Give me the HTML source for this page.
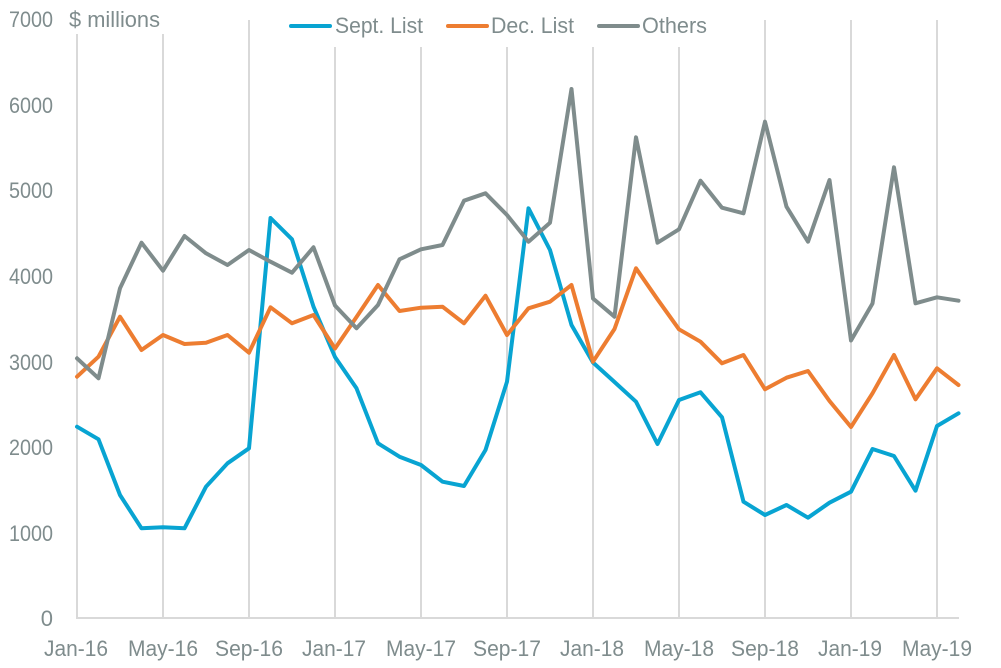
<!DOCTYPE html>
<html>
<head>
<meta charset="utf-8">
<style>
html,body{margin:0;padding:0;background:#fff;}
svg{display:block;}
text{font-family:"Liberation Sans",sans-serif;fill:#7f8c8d;font-size:22px;}
</style>
</head>
<body>
<svg width="1001" height="668" viewBox="0 0 1001 668" xmlns="http://www.w3.org/2000/svg">
<rect width="1001" height="668" fill="#fff"/>
<!-- gridlines -->
<g stroke="#d9d9d9" stroke-width="2">
<line x1="77" y1="34" x2="77" y2="618"/>
<line x1="163" y1="34" x2="163" y2="618"/>
<line x1="249" y1="20" x2="249" y2="618"/>
<line x1="335" y1="47" x2="335" y2="618"/>
<line x1="421" y1="47" x2="421" y2="618"/>
<line x1="507" y1="47" x2="507" y2="618"/>
<line x1="593" y1="47" x2="593" y2="618"/>
<line x1="679" y1="47" x2="679" y2="618"/>
<line x1="765" y1="20" x2="765" y2="618"/>
<line x1="851" y1="20" x2="851" y2="618"/>
<line x1="937" y1="20" x2="937" y2="618"/>
<line x1="76" y1="618" x2="959" y2="618"/>
</g>
<!-- y labels -->
<g text-anchor="end">
<text x="53" y="27" textLength="44" lengthAdjust="spacingAndGlyphs">7000</text>
<text x="53" y="113" textLength="44" lengthAdjust="spacingAndGlyphs">6000</text>
<text x="53" y="198" textLength="44" lengthAdjust="spacingAndGlyphs">5000</text>
<text x="53" y="284" textLength="44" lengthAdjust="spacingAndGlyphs">4000</text>
<text x="53" y="370" textLength="44" lengthAdjust="spacingAndGlyphs">3000</text>
<text x="53" y="455" textLength="44" lengthAdjust="spacingAndGlyphs">2000</text>
<text x="53" y="541" textLength="44" lengthAdjust="spacingAndGlyphs">1000</text>
<text x="53" y="626">0</text>
</g>
<text x="69" y="27" textLength="91" lengthAdjust="spacingAndGlyphs">$ millions</text>
<!-- x labels -->
<g text-anchor="middle">
<text x="76" y="656" textLength="64" lengthAdjust="spacingAndGlyphs">Jan-16</text>
<text x="163" y="656" textLength="70" lengthAdjust="spacingAndGlyphs">May-16</text>
<text x="249" y="656" textLength="68" lengthAdjust="spacingAndGlyphs">Sep-16</text>
<text x="334" y="656" textLength="64" lengthAdjust="spacingAndGlyphs">Jan-17</text>
<text x="421" y="656" textLength="70" lengthAdjust="spacingAndGlyphs">May-17</text>
<text x="507" y="656" textLength="68" lengthAdjust="spacingAndGlyphs">Sep-17</text>
<text x="592" y="656" textLength="64" lengthAdjust="spacingAndGlyphs">Jan-18</text>
<text x="679" y="656" textLength="70" lengthAdjust="spacingAndGlyphs">May-18</text>
<text x="765" y="656" textLength="68" lengthAdjust="spacingAndGlyphs">Sep-18</text>
<text x="850" y="656" textLength="64" lengthAdjust="spacingAndGlyphs">Jan-19</text>
<text x="937" y="656" textLength="70" lengthAdjust="spacingAndGlyphs">May-19</text>
</g>
<!-- series -->
<g fill="none" stroke-width="4" stroke-linejoin="round" stroke-linecap="round">
<polyline stroke="#08a4d2" points="77,426.7 98.5,439.3 120,495 141.5,528.3 163,527.3 184.5,528.3 206,486.7 227.5,463.3 249,448.3 270.5,218 292,239.3 313.5,306.7 335,357 356.5,388.3 378,443.3 399.5,456.7 421,465 442.5,481.7 464,486 485.5,450 507,381.7 528.5,208.3 550,250 571.5,325 593,362.5 614.5,382 636,401.7 657.5,444 679,400 700.5,392.3 722,417.3 743.5,501.7 765,515 786.5,505 808,517.7 829.5,502.7 851,491.7 872.5,449 894,456 915.5,490.7 937,426 958.5,413.3"/>
<polyline stroke="#ed7d31" points="77,376.7 98.5,356.7 120,316.7 141.5,350 163,335 184.5,344 206,342.7 227.5,335 249,352.7 270.5,307.3 292,323.3 313.5,315 335,348.5 356.5,317 378,285 399.5,311 421,307.7 442.5,306.7 464,323.3 485.5,295.7 507,335 528.5,308.3 550,301.7 571.5,285 593,361.7 614.5,329 636,268.3 657.5,299.3 679,329.3 700.5,341.7 722,363.3 743.5,355 765,389.3 786.5,377.7 808,371 829.5,401 851,427 872.5,393.3 894,355 915.5,399.3 937,368.3 958.5,385"/>
<polyline stroke="#7f8c8c" points="77,358.3 98.5,378.3 120,288.3 141.5,242.7 163,270.7 184.5,236 206,253.3 227.5,265 249,250 270.5,261.7 292,272.7 313.5,247.3 335,305.5 356.5,328.3 378,305 399.5,259.3 421,249.3 442.5,245 464,200.7 485.5,193.3 507,215 528.5,241.7 550,222.7 571.5,89 593,298.5 614.5,316.7 636,137.3 657.5,242.7 679,229.3 700.5,180.7 722,207.7 743.5,213.3 765,121.7 786.5,206.7 808,241.7 829.5,180 851,340.5 872.5,303.5 894,167.3 915.5,303.3 937,297.3 958.5,300.7"/>
</g>
<!-- legend -->
<g stroke-width="4" stroke-linecap="round">
<line x1="291" y1="26" x2="330" y2="26" stroke="#08a4d2"/>
<line x1="448" y1="26" x2="487" y2="26" stroke="#ed7d31"/>
<line x1="599" y1="26" x2="638" y2="26" stroke="#7f8c8c"/>
</g>
<text x="335" y="33" textLength="88" lengthAdjust="spacingAndGlyphs">Sept. List</text>
<text x="491" y="33" textLength="83" lengthAdjust="spacingAndGlyphs">Dec. List</text>
<text x="642" y="33" textLength="65" lengthAdjust="spacingAndGlyphs">Others</text>
</svg>
</body>
</html>
